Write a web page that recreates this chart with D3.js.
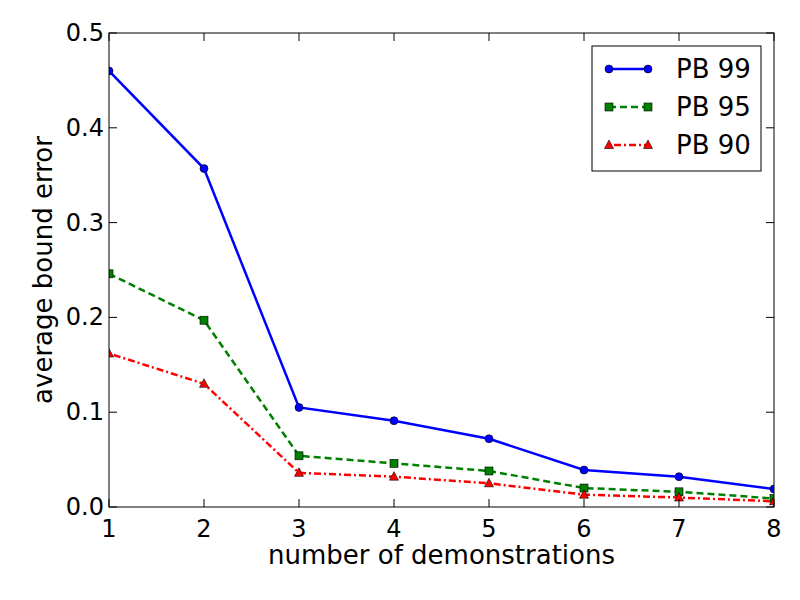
<!DOCTYPE html>
<html><head><meta charset="utf-8">
<script src="https://cdn.jsdelivr.net/npm/d3@7"></script>
<style>body{margin:0;background:#fff}svg{font-family:"DejaVu Sans",sans-serif}</style>
</head><body><svg id="c" width="800" height="600"></svg>
<script>
const demos = [1, 2, 3, 4, 5, 6, 7, 8];
const pb99 = [0.460, 0.357, 0.105, 0.091, 0.072, 0.039, 0.032, 0.019];
const pb95 = [0.246, 0.197, 0.054, 0.046, 0.038, 0.020, 0.016, 0.009];
const pb90 = [0.162, 0.130, 0.036, 0.032, 0.025, 0.013, 0.010, 0.006];
const yTicks = [0, 0.1, 0.2, 0.3, 0.4, 0.5];

const series = [
  { name: "PB 99", vals: pb99, color: "#0000ff", dash: null, marker: "circle" },
  { name: "PB 95", vals: pb95, color: "#008000", dash: "7,4", marker: "square" },
  { name: "PB 90", vals: pb90, color: "#ff0000", dash: "2,3,7,3", marker: "triangle" }
];

const m = { left: 109, right: 774, top: 33, bottom: 507 };
const svg = d3.select("#c");
const x = d3.scaleLinear().domain([1, 8]).range([m.left, m.right]);
const y = d3.scaleLinear().domain([0, 0.5]).range([m.bottom, m.top]);

svg.append("clipPath").attr("id", "clip").append("rect")
  .attr("x", m.left).attr("y", m.top).attr("width", m.right - m.left).attr("height", m.bottom - m.top);

function drawMarker(g, kind, cx, cy, color) {
  if (kind === "circle") g.append("circle").attr("cx", cx).attr("cy", cy).attr("r", 4).attr("fill", color).attr("stroke", "#000").attr("stroke-width", 0.6);
  else if (kind === "square") g.append("rect").attr("x", cx - 4).attr("y", cy - 4).attr("width", 8).attr("height", 8).attr("fill", color).attr("stroke", "#000").attr("stroke-width", 0.6);
  else g.append("path").attr("d", `M${cx},${cy - 5}L${cx + 4.5},${cy + 3.5}L${cx - 4.5},${cy + 3.5}Z`).attr("fill", color).attr("stroke", "#000").attr("stroke-width", 0.6);
}

const plot = svg.append("g").attr("clip-path", "url(#clip)");
const line = d3.line().x((d, i) => x(demos[i])).y(d => y(d));
series.forEach(s => {
  plot.append("path").datum(s.vals).attr("d", line).attr("fill", "none")
    .attr("stroke", s.color).attr("stroke-width", 2.5).attr("stroke-dasharray", s.dash);
  s.vals.forEach((v, i) => drawMarker(plot, s.marker, x(demos[i]), y(v), s.color));
});

// frame + inward ticks on all sides
svg.append("rect").attr("x", m.left).attr("y", m.top).attr("width", m.right - m.left).attr("height", m.bottom - m.top)
  .attr("fill", "none").attr("stroke", "#000").attr("stroke-width", 1);
const fmt = d3.format(".1f");
demos.forEach(d => {
  svg.append("line").attr("x1", x(d)).attr("x2", x(d)).attr("y1", m.bottom).attr("y2", m.bottom - 8).attr("stroke", "#000");
  svg.append("line").attr("x1", x(d)).attr("x2", x(d)).attr("y1", m.top).attr("y2", m.top + 8).attr("stroke", "#000");
  svg.append("text").attr("x", x(d)).attr("y", m.bottom + 30).attr("text-anchor", "middle").attr("font-size", 24).text(d);
});
yTicks.forEach(t => {
  svg.append("line").attr("x1", m.left).attr("x2", m.left + 8).attr("y1", y(t)).attr("y2", y(t)).attr("stroke", "#000");
  svg.append("line").attr("x1", m.right).attr("x2", m.right - 8).attr("y1", y(t)).attr("y2", y(t)).attr("stroke", "#000");
  svg.append("text").attr("x", m.left - 5).attr("y", y(t) + 8).attr("text-anchor", "end").attr("font-size", 24).text(fmt(t));
});
svg.append("text").attr("x", (m.left + m.right) / 2).attr("y", 564).attr("text-anchor", "middle").attr("font-size", 26).text("number of demonstrations");
svg.append("text").attr("transform", `translate(52,${(m.top + m.bottom) / 2}) rotate(-90)`).attr("text-anchor", "middle").attr("font-size", 26).text("average bound error");

// legend
const lg = svg.append("g");
lg.append("rect").attr("x", 592).attr("y", 46).attr("width", 169).attr("height", 125).attr("fill", "#fff").attr("stroke", "#000");
series.forEach((s, i) => {
  const ly = 69 + i * 38;
  lg.append("line").attr("x1", 609).attr("x2", 648).attr("y1", ly).attr("y2", ly).attr("stroke", s.color).attr("stroke-width", 2.5).attr("stroke-dasharray", s.dash);
  drawMarker(lg, s.marker, 609, ly, s.color);
  drawMarker(lg, s.marker, 648, ly, s.color);
  lg.append("text").attr("x", 676).attr("y", ly + 9).attr("font-size", 26).text(s.name);
});
</script></body></html>
